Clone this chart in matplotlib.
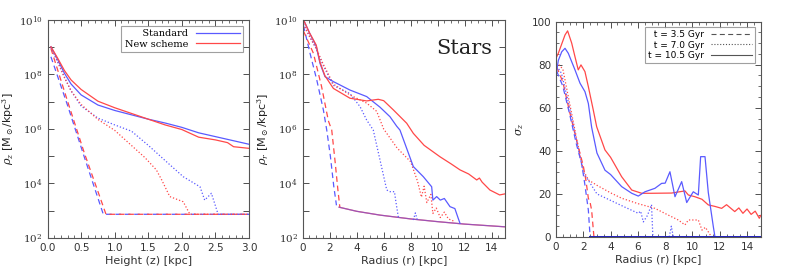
import numpy as np
import matplotlib
matplotlib.use('Agg')
import matplotlib.pyplot as plt
from matplotlib.ticker import MultipleLocator, FixedLocator, FuncFormatter
from matplotlib.lines import Line2D

# colours of the two schemes
BLUE = '#5a5aff'
RED = '#ff4848'

# ---- panel 1: vertical profile rho_z (log10 values) ----
z_std_35 = [0.05, 0.3, 0.55, 0.83, 3.0]
lz_std_35 = [8.65, 6.85, 4.95, 2.87, 2.87]
z_new_35 = [0.05, 0.3, 0.55, 0.87, 3.0]
lz_new_35 = [8.95, 7.0, 5.1, 2.87, 2.87]

z_std_70 = [0.05, 0.15, 0.25, 0.35, 0.5, 0.75, 1.0, 1.25, 1.5, 1.77, 2.02, 2.27, 2.34, 2.44, 2.54, 3.0]
lz_std_70 = [9.0, 8.45, 7.9, 7.4, 6.84, 6.4, 6.15, 5.92, 5.4, 4.8, 4.25, 3.88, 3.39, 3.64, 2.87, 2.87]
z_new_70 = [0.05, 0.15, 0.25, 0.35, 0.5, 0.75, 1.0, 1.27, 1.45, 1.62, 1.7, 1.82, 2.02, 2.12, 3.0]
lz_new_70 = [9.0, 8.5, 7.9, 7.4, 6.9, 6.35, 5.95, 5.35, 4.95, 4.5, 4.13, 3.52, 3.33, 2.87, 2.87]

z_std_105 = [0.05, 0.15, 0.25, 0.35, 0.5, 0.75, 1.0, 1.25, 1.5, 1.75, 2.0, 2.25, 2.5, 2.75, 3.0]
lz_std_105 = [9.02, 8.55, 8.05, 7.65, 7.25, 6.88, 6.68, 6.52, 6.36, 6.22, 6.06, 5.86, 5.72, 5.58, 5.44]
z_new_105 = [0.05, 0.15, 0.25, 0.35, 0.5, 0.75, 1.0, 1.25, 1.5, 1.75, 2.0, 2.25, 2.5, 2.68, 2.77, 3.0]
lz_new_105 = [9.02, 8.6, 8.15, 7.8, 7.45, 7.02, 6.78, 6.57, 6.36, 6.15, 5.98, 5.7, 5.6, 5.5, 5.35, 5.29]

# ---- panel 2: radial profile rho_r (log10 values) ----
r_floor = [2.7, 4.0, 5.73, 8.0, 10.0, 12.0, 15.0]
lr_floor = [3.13, 2.98, 2.84, 2.70, 2.60, 2.51, 2.41]

r_std_35 = [0.05, 0.54, 1.04, 1.53, 1.78, 2.05, 2.3, 2.5]
lr_std_35 = [9.8, 8.78, 7.8, 6.7, 5.96, 5.0, 3.9, 3.2]
r_new_35 = [0.05, 0.79, 1.4, 1.9, 2.15, 2.4, 2.6, 2.75]
lr_new_35 = [9.6, 8.78, 7.55, 6.3, 5.96, 4.8, 3.8, 3.13]

r_std_70 = [0.05, 0.5, 1.0, 1.5, 2.27, 3.5, 4.25, 4.74, 5.23, 5.73, 6.23, 6.47, 6.8, 6.9, 7.09]
lr_std_70 = [9.85, 9.4, 8.95, 8.35, 7.6, 7.3, 6.82, 6.33, 5.96, 4.86, 3.76, 3.7, 3.7, 3.35, 2.76]
r_std_70b = [8.2, 8.35, 8.5]
lr_std_70b = [2.66, 2.92, 2.65]
r_new_70 = [0.05, 0.5, 1.0, 1.5, 2.27, 3.5, 4.74, 5.48, 6.0, 7.0, 8.0, 8.5, 8.8, 9.0, 9.2, 9.5, 9.65, 9.9, 10.2, 10.5, 10.8, 11.2]
lr_new_70 = [9.85, 9.4, 8.95, 8.4, 7.65, 7.25, 6.95, 6.65, 6.0, 5.3, 4.8, 4.1, 3.5, 3.9, 3.3, 3.6, 2.9, 3.1, 2.75, 2.95, 2.7, 2.62]

r_std_105 = [0.1, 0.5, 1.0, 1.28, 1.65, 2.27, 3.5, 4.74, 5.73, 6.47, 6.97, 7.21, 8.2, 8.94, 9.56, 9.65, 9.93, 10.2, 10.5, 10.92, 11.28, 11.53, 11.66]
lr_std_105 = [9.96, 9.53, 9.04, 8.41, 7.92, 7.74, 7.43, 7.19, 6.8, 6.45, 6.1, 5.96, 4.62, 4.25, 3.88, 3.39, 3.52, 3.39, 3.45, 3.15, 3.08, 2.72, 2.54]
r_new_105 = [0.1, 0.5, 1.0, 1.28, 1.65, 2.27, 3.5, 4.74, 5.6, 6.0, 6.72, 7.71, 8.2, 9.0, 10.18, 11.0, 11.66, 12.3, 12.9, 13.1, 13.3, 13.88, 14.6, 15.0]
lr_new_105 = [9.96, 9.53, 9.08, 8.45, 7.95, 7.49, 7.13, 7.03, 7.09, 7.04, 6.70, 6.21, 5.84, 5.4, 4.98, 4.72, 4.5, 4.35, 4.13, 4.2, 4.05, 3.76, 3.58, 3.62]

# ---- panel 3: vertical velocity dispersion sigma_z ----
s_r_std_35 = [0.05, 0.5, 1.0, 1.5, 1.88, 2.1, 2.37, 2.5, 15.0]
s_std_35 = [77, 70, 57, 43, 34, 25, 12.5, 0, 0]
s_r_new_35 = [0.05, 0.5, 1.0, 1.5, 2.0, 2.2, 2.37, 2.5, 2.61, 2.78, 15.0]
s_new_35 = [79, 72, 58, 45, 33, 26, 18, 16, 12.5, 0, 0]

s_r_std_70 = [0.2, 0.4, 1.0, 1.5, 2.0, 3.0, 4.0, 5.0, 6.03, 6.2, 6.4, 6.7, 7.0, 7.1, 8.3, 8.45, 8.6, 15.0]
s_std_70 = [78, 76, 60, 45, 30, 20, 17, 14, 11, 12, 7, 10, 15, 0, 0, 5, 0, 0]
s_r_new_70 = [0.2, 0.5, 1.0, 1.5, 2.0, 2.37, 3.0, 4.0, 4.81, 6.0, 7.25, 8.22, 8.96, 9.45, 9.7, 10.43, 10.7, 10.95, 11.4, 15.0]
s_new_70 = [80, 78, 62, 46, 31, 26.5, 24, 20.5, 18, 15.5, 13.3, 10.2, 7.9, 5.6, 7.9, 7.9, 3.2, 4.5, 0, 0]

s_r_std_105 = [0.0, 0.17, 0.42, 0.66, 0.9, 1.39, 1.76, 2.12, 2.37, 2.61, 3.0, 3.59, 4.0, 4.81, 5.55, 6.03, 6.52, 7.25, 7.74, 8.0,
               8.35, 8.72, 9.21, 9.58, 10.06, 10.43, 10.6, 10.92, 11.16, 11.53, 11.65, 15.0]
s_std_105 = [75, 82, 86, 87.6, 85.3, 77.6, 71.4, 67.5, 62, 51, 39, 31, 29, 23.4, 20.3, 19, 21, 22.6, 24.9, 25,
             30.3, 18.7, 25.7, 16, 21, 19.5, 37.3, 37.3, 20.7, 4.8, 0, 0]
s_r_new_105 = [0.0, 0.17, 0.66, 0.85, 1.15, 1.39, 1.63, 1.83, 2.12, 2.37, 2.73, 2.98, 3.59, 4.0, 4.81, 5.55, 6.28, 7.0, 8.47, 9.45, 9.7,
               10.18, 10.7, 11.16, 11.65, 12.14, 12.5, 13.1, 13.4, 13.7, 14.0, 14.3, 14.6, 14.9, 15.0]
s_new_105 = [83, 85.3, 93.8, 95.7, 90, 83.7, 77.6, 79.9, 76.8, 69.8, 59, 51.2, 40.4, 37, 28, 21.8, 20.3, 20.3, 20.4, 21.4, 19.5,
             18.7, 17.5, 14.9, 14.2, 13.3, 15.0, 11.8, 13.5, 11.0, 13.0, 10.5, 12.0, 8.7, 10.0]

plt.rcParams['font.family'] = 'DejaVu Sans'
plt.rcParams['mathtext.fontset'] = 'dejavuserif'

fig = plt.figure(figsize=(7.89, 2.77), dpi=100)
ax1 = fig.add_axes([0.0603, 0.1408, 0.2553, 0.787])
ax2 = fig.add_axes([0.3837, 0.1408, 0.2564, 0.787])
ax3 = fig.add_axes([0.7047, 0.1444, 0.2594, 0.7776])

lw = 0.9
dash = (0, (4.5, 3))
dot = (0, (1, 1.6))


def style_axes(ax):
    ax.tick_params(which='both', direction='in', top=True, right=True, labelsize=7.5, colors='#333333')
    ax.tick_params(which='major', length=4, width=0.6)
    ax.tick_params(which='minor', length=2, width=0.5)
    for sp in ax.spines.values():
        sp.set_color('#555555')
        sp.set_linewidth(0.8)


def log_axis(ax):
    ax.set_yscale('log')
    ax.set_ylim(1e2, 1e10)
    ax.yaxis.set_major_locator(FixedLocator([10.0 ** k for k in range(2, 11)]))
    ax.yaxis.set_minor_locator(FixedLocator([]))
    ax.yaxis.set_major_formatter(FuncFormatter(
        lambda v, p: r'$10^{%d}$' % round(np.log10(v)) if round(np.log10(v)) % 2 == 0 else ''))


# panel 1
for x, y, c, ls in [(z_std_35, lz_std_35, BLUE, dash), (z_new_35, lz_new_35, RED, dash),
                    (z_std_70, lz_std_70, BLUE, dot), (z_new_70, lz_new_70, RED, dot),
                    (z_std_105, lz_std_105, BLUE, '-'), (z_new_105, lz_new_105, RED, '-')]:
    ax1.plot(x, 10.0 ** np.array(y), color=c, ls=ls, lw=lw)
log_axis(ax1)
ax1.set_xlim(0, 3)
ax1.xaxis.set_major_locator(MultipleLocator(0.5))
ax1.xaxis.set_minor_locator(MultipleLocator(0.1))
ax1.xaxis.set_major_formatter(FuncFormatter(lambda v, p: '%.1f' % v))
ax1.set_xlabel('Height (z) [kpc]', fontsize=8, color='#333333', labelpad=2)
ax1.set_ylabel(r'$\rho_z$ [M$_\odot$/kpc$^3$]', fontsize=8, color='#222222', labelpad=2)
style_axes(ax1)
leg1 = ax1.legend(handles=[Line2D([], [], color=BLUE, lw=lw), Line2D([], [], color=RED, lw=lw)],
                  labels=['   Standard', 'New scheme'], loc='upper right', markerfirst=False,
                  fancybox=False, edgecolor='#888888', fontsize=7, handlelength=4.5,
                  prop={'family': 'DejaVu Serif', 'size': 7}, borderpad=0.35,
                  labelspacing=0.15, handletextpad=0.8, borderaxespad=0.6)
leg1.get_frame().set_linewidth(0.8)

# panel 2
ax2.plot(r_floor, 10.0 ** np.array(lr_floor), color=RED, lw=lw)
for x, y, c, ls in [(r_std_35, lr_std_35, BLUE, dash), (r_new_35, lr_new_35, RED, dash),
                    (r_std_70, lr_std_70, BLUE, dot), (r_std_70b, lr_std_70b, BLUE, dot),
                    (r_new_70, lr_new_70, RED, dot),
                    (r_std_105, lr_std_105, BLUE, '-'), (r_new_105, lr_new_105, RED, '-')]:
    ax2.plot(x, 10.0 ** np.array(y), color=c, ls=ls, lw=lw)
ax2.plot(r_floor, 10.0 ** np.array(lr_floor), color=BLUE, lw=lw, alpha=0.6)
log_axis(ax2)
ax2.set_xlim(0, 15)
ax2.xaxis.set_major_locator(MultipleLocator(2))
ax2.xaxis.set_minor_locator(MultipleLocator(0.5))
ax2.set_xlabel('Radius (r) [kpc]', fontsize=8, color='#333333', labelpad=2)
ax2.set_ylabel(r'$\rho_r$ [M$_\odot$/kpc$^3$]', fontsize=8, color='#222222', labelpad=2)
style_axes(ax2)
ax2.text(0.8, 0.87, 'Stars', transform=ax2.transAxes, ha='center', va='center',
         fontsize=15, family='DejaVu Serif', color='#222222')

# panel 3
for x, y, c, ls in [(s_r_new_35, s_new_35, RED, dash), (s_r_std_35, s_std_35, BLUE, dash),
                    (s_r_new_70, s_new_70, RED, dot), (s_r_std_70, s_std_70, BLUE, dot),
                    (s_r_new_105, s_new_105, RED, '-'), (s_r_std_105, s_std_105, BLUE, '-')]:
    ax3.plot(x, y, color=c, ls=ls, lw=lw)
ax3.plot([2.5, 15], [0, 0], color='#2020c0', lw=1.4)
ax3.set_xlim(0, 15)
ax3.set_ylim(0, 100)
ax3.xaxis.set_major_locator(MultipleLocator(2))
ax3.xaxis.set_minor_locator(MultipleLocator(0.5))
ax3.yaxis.set_major_locator(MultipleLocator(20))
ax3.yaxis.set_minor_locator(MultipleLocator(5))
ax3.set_xlabel('Radius (r) [kpc]', fontsize=8, color='#333333', labelpad=2)
ax3.set_ylabel(r'$\sigma_z$', fontsize=8, color='#222222', labelpad=4)
style_axes(ax3)
gray = '#555555'
leg3 = ax3.legend(handles=[Line2D([], [], color=gray, lw=0.8, ls=dash),
                           Line2D([], [], color=gray, lw=0.8, ls=dot),
                           Line2D([], [], color=gray, lw=0.8)],
                  labels=['  t = 3.5 Gyr', '  t = 7.0 Gyr', 't = 10.5 Gyr'], loc='upper right',
                  fancybox=False, edgecolor='#888888', handlelength=4.5, markerfirst=False,
                  prop={'family': 'DejaVu Sans', 'size': 6.5}, borderpad=0.35,
                  labelspacing=0.15, handletextpad=0.8, borderaxespad=0.6)
leg3.get_frame().set_linewidth(0.8)

fig.savefig('out.png', dpi=100)
